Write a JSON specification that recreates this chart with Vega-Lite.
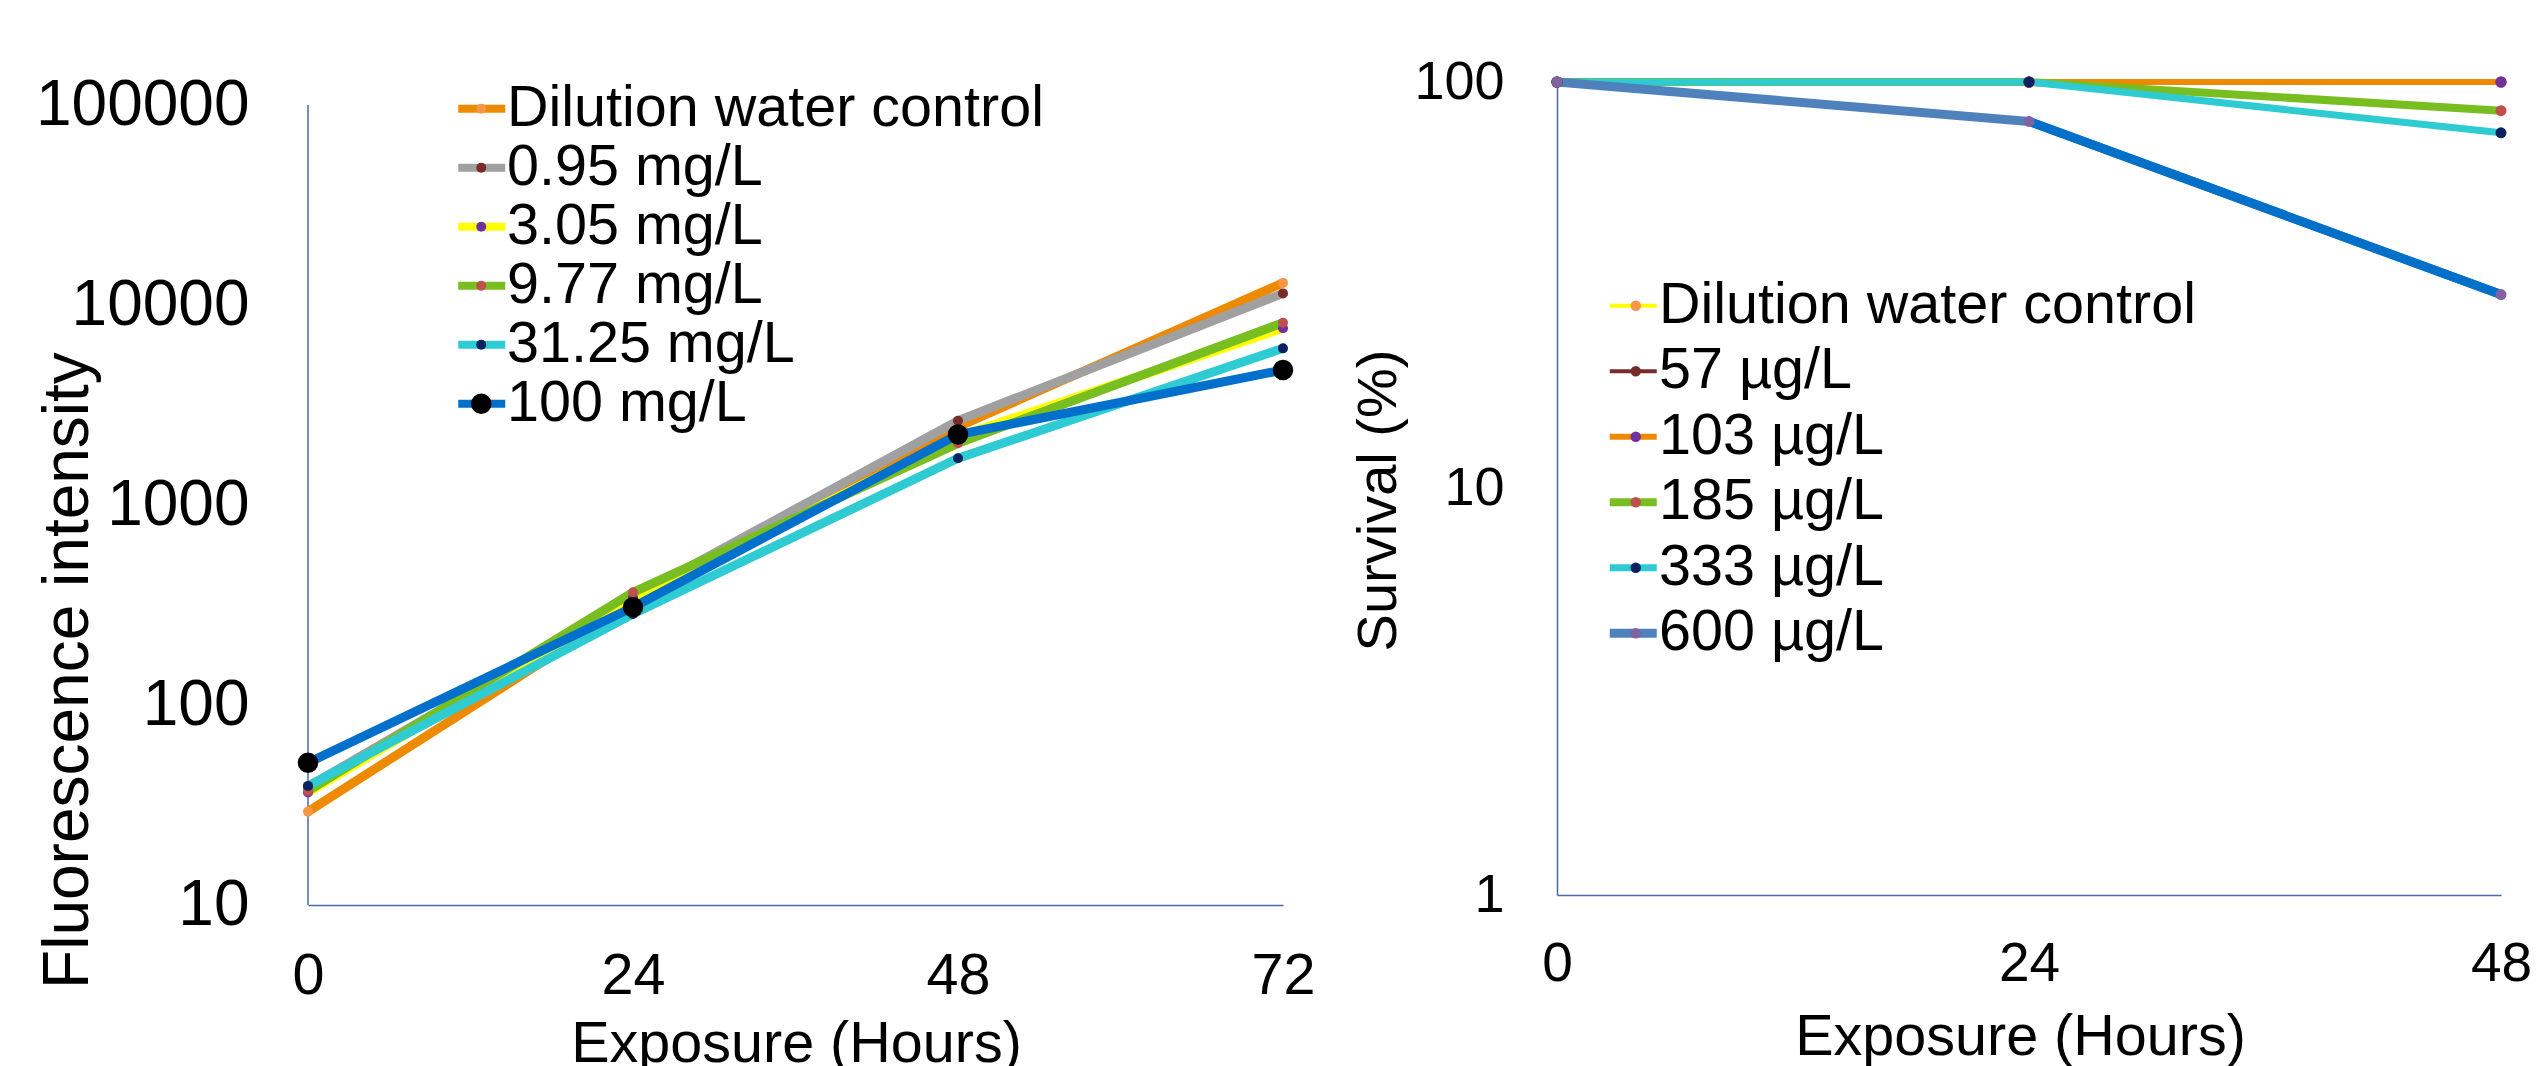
{
  "$schema": "https://vega.github.io/schema/vega-lite/v6.json",
  "background": "white",
  "padding": {"left": 35, "top": 55, "right": 0, "bottom": 0},
  "bounds": "flush",
  "spacing": 274,
  "resolve": {
    "scale": {"color": "independent", "fill": "independent", "size": "independent", "strokeWidth": "independent", "x": "independent", "y": "independent"},
    "legend": {"color": "independent", "fill": "independent", "size": "independent", "strokeWidth": "independent"}
  },
  "config": {
    "font": "Liberation Sans",
    "view": {"stroke": null},
    "axis": {
      "grid": false,
      "ticks": false,
      "domainColor": "#4A69A8",
      "domainWidth": 1.5,
      "labelColor": "black",
      "titleColor": "black",
      "labelFont": "Liberation Sans",
      "titleFont": "Liberation Sans",
      "titleFontWeight": "normal",
      "labelFlush": false,
      "labelOverlap": false,
      "labelLimit": 0
    },
    "legend": {"labelFont": "Liberation Sans", "labelColor": "black", "labelLimit": 0}
  },
  "datasets": {
    "fluor": [
      {"hour": 0, "series": "Dilution water control", "value": 29.3},
      {"hour": 24, "series": "Dilution water control", "value": 320},
      {"hour": 48, "series": "Dilution water control", "value": 2460},
      {"hour": 72, "series": "Dilution water control", "value": 12900},
      {"hour": 0, "series": "0.95 mg/L", "value": 39},
      {"hour": 24, "series": "0.95 mg/L", "value": 345},
      {"hour": 48, "series": "0.95 mg/L", "value": 2640},
      {"hour": 72, "series": "0.95 mg/L", "value": 11430},
      {"hour": 0, "series": "3.05 mg/L", "value": 36.5},
      {"hour": 24, "series": "3.05 mg/L", "value": 335},
      {"hour": 48, "series": "3.05 mg/L", "value": 2200},
      {"hour": 72, "series": "3.05 mg/L", "value": 7650},
      {"hour": 0, "series": "9.77 mg/L", "value": 37.2},
      {"hour": 24, "series": "9.77 mg/L", "value": 366},
      {"hour": 48, "series": "9.77 mg/L", "value": 2035},
      {"hour": 72, "series": "9.77 mg/L", "value": 8150},
      {"hour": 0, "series": "31.25 mg/L", "value": 39.4},
      {"hour": 24, "series": "31.25 mg/L", "value": 285},
      {"hour": 48, "series": "31.25 mg/L", "value": 1712},
      {"hour": 72, "series": "31.25 mg/L", "value": 6070},
      {"hour": 0, "series": "100 mg/L", "value": 51.4},
      {"hour": 24, "series": "100 mg/L", "value": 308},
      {"hour": 48, "series": "100 mg/L", "value": 2250},
      {"hour": 72, "series": "100 mg/L", "value": 4730}
    ],
    "surv": [
      {"hour": 0, "series": "Dilution water control", "value": 100},
      {"hour": 24, "series": "Dilution water control", "value": 100},
      {"hour": 48, "series": "Dilution water control", "value": 100},
      {"hour": 0, "series": "57 µg/L", "value": 100},
      {"hour": 24, "series": "57 µg/L", "value": 100},
      {"hour": 48, "series": "57 µg/L", "value": 100},
      {"hour": 0, "series": "103 µg/L", "value": 100},
      {"hour": 24, "series": "103 µg/L", "value": 100},
      {"hour": 48, "series": "103 µg/L", "value": 100},
      {"hour": 0, "series": "185 µg/L", "value": 100},
      {"hour": 24, "series": "185 µg/L", "value": 100},
      {"hour": 48, "series": "185 µg/L", "value": 85},
      {"hour": 0, "series": "333 µg/L", "value": 100},
      {"hour": 24, "series": "333 µg/L", "value": 100},
      {"hour": 48, "series": "333 µg/L", "value": 75},
      {"hour": 0, "series": "600 µg/L", "value": 100},
      {"hour": 24, "series": "600 µg/L", "value": 80},
      {"hour": 48, "series": "600 µg/L", "value": 30}
    ]
  },
  "hconcat": [
    {
      "width": 975,
      "height": 823,
      "layer": [
        {
          "data": {"values": [{}]},
          "mark": {"type": "rule", "color": "#4A69A8", "strokeWidth": 1.5},
          "encoding": {
            "x": {"datum": 0, "type": "quantitative"},
            "y": {"datum": 10, "type": "quantitative"},
            "y2": {"datum": 100000}
          }
        },
        {
          "data": {"name": "fluor"},
          "mark": {"type": "line", "strokeWidth": 9, "strokeJoin": "round"},
          "encoding": {
            "x": {
              "field": "hour", "type": "quantitative",
              "scale": {"domain": [0, 72], "nice": false, "zero": false},
              "axis": {
                "values": [0, 24, 48, 72], "labelFontSize": 57.5, "labelPadding": 43,
                "title": "Exposure (Hours)", "titleFontSize": 57.5, "titleBaseline": "alphabetic",
                "titleY": 156, "titleX": 488
              }
            },
            "y": {
              "field": "value", "type": "quantitative",
              "scale": {"type": "log", "domain": [10, 130317], "nice": false},
              "axis": {
                "values": [10, 100, 1000, 10000, 100000], "format": "d", "labelFontSize": 64,
                "labelPadding": 59, "domain": false,
                "title": "Fluorescence intensity", "titleFontSize": 64, "titleBaseline": "alphabetic",
                "titleX": -221, "titleY": 588
              }
            },
            "color": {
              "field": "series", "type": "nominal",
              "scale": {
                "domain": ["Dilution water control", "0.95 mg/L", "3.05 mg/L", "9.77 mg/L", "31.25 mg/L", "100 mg/L"],
                "range": ["#EE8A00", "#A0A0A0", "#FFFF00", "#78BE20", "#2ECBD3", "#0070CC"]
              },
              "legend": {
                "orient": "none", "legendX": 145, "legendY": -2, "title": null,
                "symbolType": "stroke", "symbolSize": 2209, "symbolStrokeWidth": 8,
                "labelFontSize": 57.5, "labelOffset": -3.5, "rowPadding": 0
              }
            }
          }
        },
        {
          "data": {"name": "fluor"},
          "mark": {"type": "point", "filled": true, "opacity": 1, "shape": "circle"},
          "encoding": {
            "x": {"field": "hour", "type": "quantitative"},
            "y": {"field": "value", "type": "quantitative"},
            "fill": {
              "field": "series", "type": "nominal", "sort": null,
              "scale": {"range": ["#F79646", "#772C2A", "#7030A0", "#C0504D", "#0B2260", "#000000"]},
              "legend": {
                "orient": "none", "legendX": 144.5, "legendY": -2, "title": null,
                "symbolType": "circle", "symbolStrokeWidth": 0,
                "labelFontSize": 57.5, "labelOffset": 3, "rowPadding": 0, "labelOpacity": 0
              }
            },
            "size": {
              "field": "series", "type": "nominal", "sort": null,
              "scale": {"type": "ordinal", "range": [100, 100, 100, 100, 100, 420]},
              "legend": {
                "orient": "none", "legendX": 144.5, "legendY": -2, "title": null,
                "symbolType": "circle", "symbolStrokeWidth": 0,
                "labelFontSize": 57.5, "labelOffset": 3, "rowPadding": 0, "labelOpacity": 0
              }
            }
          }
        }
      ]
    },
    {
      "width": 944,
      "height": 813,
      "data": {"name": "surv"},
      "layer": [
        {
          "mark": {"type": "line", "strokeJoin": "round"},
          "encoding": {
            "x": {
              "field": "hour", "type": "quantitative",
              "scale": {"domain": [0, 48], "nice": false, "zero": false},
              "axis": {
                "values": [0, 24, 48], "labelFontSize": 55, "labelPadding": 42,
                "title": "Exposure (Hours)", "titleFontSize": 57.5, "titleBaseline": "alphabetic",
                "titleY": 159, "titleX": 463
              }
            },
            "y": {
              "field": "value", "type": "quantitative",
              "scale": {"type": "log", "domain": [1, 100], "nice": false},
              "axis": {
                "values": [1, 10, 100], "format": "d", "labelFontSize": 54, "labelPadding": 53,
                "title": "Survival (%)", "titleFontSize": 56, "titleBaseline": "alphabetic",
                "titleX": -162, "titleY": 418
              }
            },
            "color": {
              "field": "series", "type": "nominal",
              "scale": {
                "domain": ["Dilution water control", "57 µg/L", "103 µg/L", "185 µg/L", "333 µg/L", "600 µg/L"],
                "range": ["#FFFF00", "#772C2A", "#EE8A00", "#78BE20", "#2ECBD3", "#4F81BD"]
              },
              "legend": {
                "orient": "none", "legendX": 47.5, "legendY": 195, "title": null,
                "symbolType": "stroke", "symbolSize": 2209,
                "labelFontSize": 57.5, "labelOffset": -3, "rowPadding": 6.5
              }
            },
            "strokeWidth": {
              "field": "series", "type": "nominal",
              "scale": {
                "type": "ordinal",
                "domain": ["Dilution water control", "57 µg/L", "103 µg/L", "185 µg/L", "333 µg/L", "600 µg/L"],
                "range": [4, 4, 6, 8, 7, 9]
              },
              "legend": {
                "orient": "none", "legendX": 47.5, "legendY": 195, "title": null,
                "symbolType": "stroke", "symbolSize": 2209,
                "labelFontSize": 57.5, "labelOffset": -3, "rowPadding": 6.5
              }
            }
          }
        },
        {
          "transform": [{"filter": "datum.series === '600 µg/L' && datum.hour >= 24"}],
          "mark": {"type": "line", "color": "#0070C8", "strokeWidth": 9, "strokeJoin": "round"},
          "encoding": {
            "x": {"field": "hour", "type": "quantitative"},
            "y": {"field": "value", "type": "quantitative"}
          }
        },
        {
          "mark": {"type": "point", "filled": true, "opacity": 1, "shape": "circle", "size": 121},
          "encoding": {
            "x": {"field": "hour", "type": "quantitative"},
            "y": {"field": "value", "type": "quantitative"},
            "fill": {
              "field": "series", "type": "nominal", "sort": null,
              "scale": {"range": ["#F79646", "#772C2A", "#7030A0", "#C0504D", "#0B2260", "#8064A2"]},
              "legend": {
                "orient": "none", "legendX": 50, "legendY": 195, "title": null,
                "symbolType": "circle", "symbolStrokeWidth": 0, "symbolSize": 110,
                "labelFontSize": 57.5, "labelOffset": 3, "rowPadding": 6.5, "labelOpacity": 0
              }
            }
          }
        }
      ]
    }
  ]
}
